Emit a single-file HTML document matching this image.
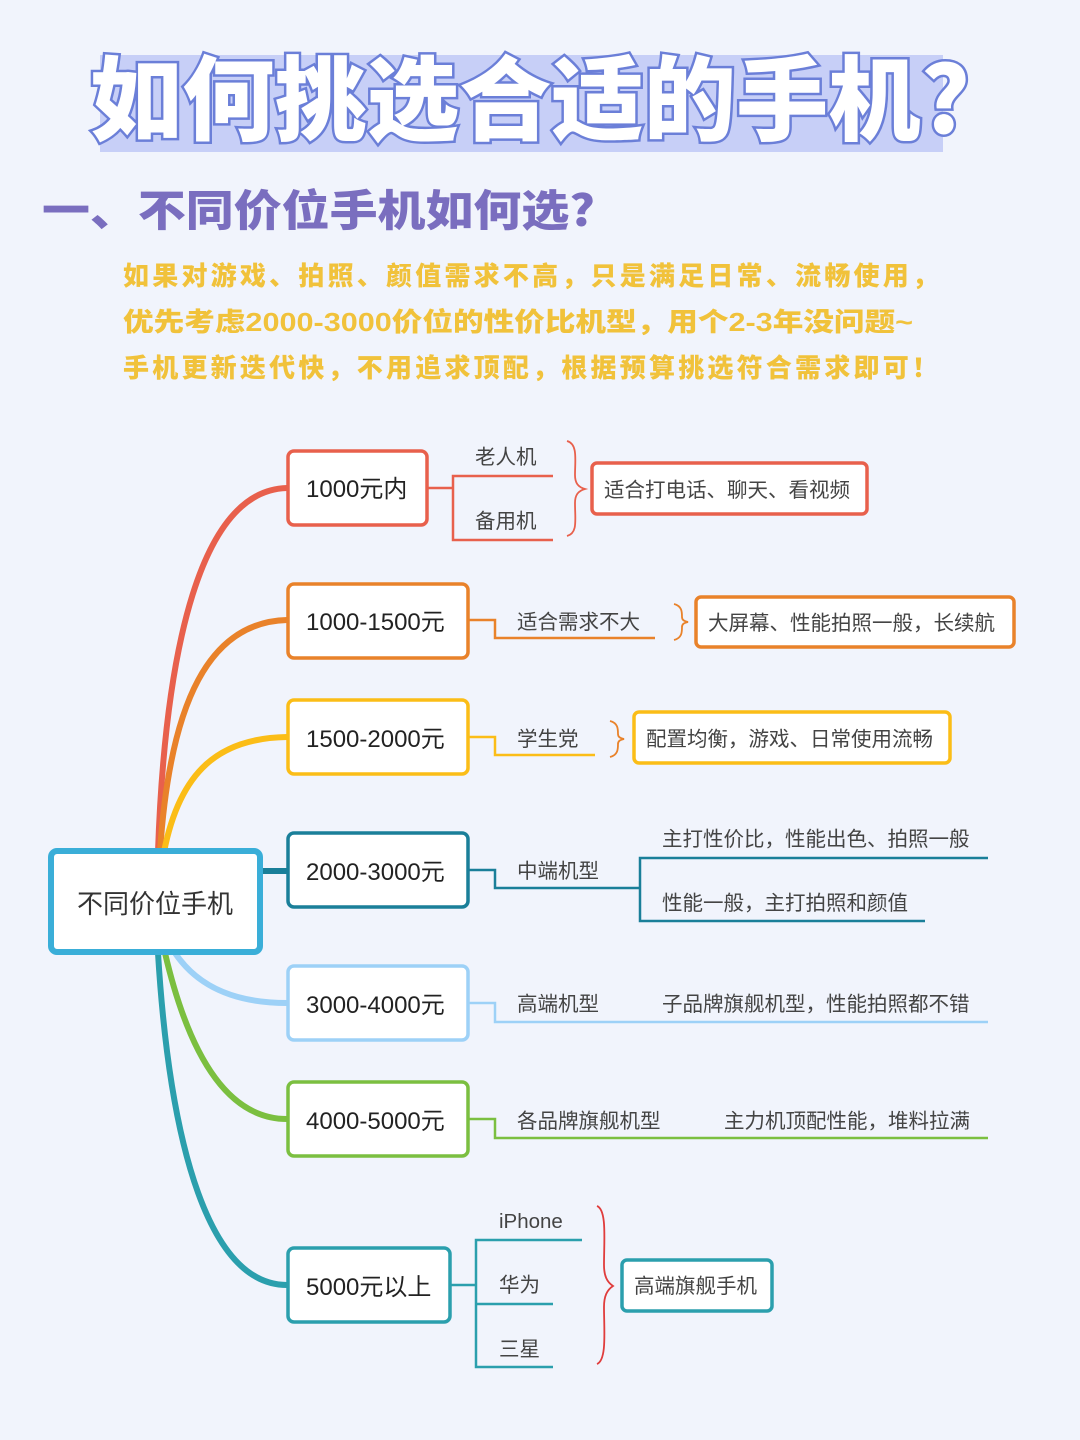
<!DOCTYPE html>
<html><head><meta charset="utf-8"><style>
html,body{margin:0;padding:0;background:#f1f4fc;}
svg{display:block;}
text{font-family:"Liberation Sans","Noto Sans CJK SC",sans-serif;}
</style></head><body>
<svg width="1080" height="1440" viewBox="0 0 1080 1440" xmlns="http://www.w3.org/2000/svg">
<rect width="1080" height="1440" fill="#f1f4fc"/>
<rect x="100" y="55" width="843" height="97" fill="#c7cff7"/>
<text x="90" y="133" textLength="880" lengthAdjust="spacingAndGlyphs" font-size="92" font-weight="900" fill="#fff" stroke="#6b7fd8" stroke-width="5" paint-order="stroke" style="font-family:'Noto Sans CJK SC',sans-serif">如何挑选合适的手机?</text>
<text x="42" y="226" textLength="553" lengthAdjust="spacingAndGlyphs" font-size="43" font-weight="900" fill="#7a6ebf" style="font-family:'Noto Sans CJK SC',sans-serif">一、不同价位手机如何选?</text>
<g font-size="26" font-weight="900" fill="#f1c23b" style="font-family:'Noto Sans CJK SC',sans-serif">
<text x="123" y="285" textLength="815" lengthAdjust="spacing">如果对游戏、拍照、颜值需求不高，只是满足日常、流畅使用，</text>
<text x="123" y="331" textLength="790" lengthAdjust="spacingAndGlyphs">优先考虑2000-3000价位的性价比机型，用个2-3年没问题~</text>
<text x="123" y="377" textLength="815" lengthAdjust="spacing">手机更新迭代快，不用追求顶配，根据预算挑选符合需求即可！</text>
</g>
<g fill="none" stroke-width="6">
<path d="M158 852 C165 650 200 490 287 488" stroke="#e8604c"/>
<path d="M160 852 C170 700 210 622 287 620" stroke="#e9822a"/>
<path d="M164 852 C180 770 220 738 287 737" stroke="#fbbd17"/>
<path d="M261 871 L287 871" stroke="#1a7f99"/>
<path d="M175 953 C200 990 240 1003 287 1003" stroke="#9dd1f7"/>
<path d="M165 953 C190 1060 230 1119 287 1119" stroke="#7bbf40"/>
<path d="M158 953 C170 1150 210 1285 287 1285" stroke="#2b9fad"/>
</g>
<rect x="51" y="851" width="209" height="101" rx="6" fill="#fff" stroke="#3aaed8" stroke-width="6"/>
<text x="155" y="913" text-anchor="middle" font-size="26" fill="#333">不同价位手机</text>
<g fill="#fff" stroke-width="3.5">
<rect x="288" y="451" width="139" height="74" rx="6" stroke="#e8604c"/>
<rect x="288" y="584" width="180" height="74" rx="6" stroke="#e9822a"/>
<rect x="288" y="700" width="180" height="74" rx="6" stroke="#fbbd17"/>
<rect x="288" y="833" width="180" height="74" rx="6" stroke="#1a7f99"/>
<rect x="288" y="966" width="180" height="74" rx="6" stroke="#9dd1f7"/>
<rect x="288" y="1082" width="180" height="74" rx="6" stroke="#7bbf40"/>
<rect x="288" y="1248" width="162" height="74" rx="6" stroke="#2b9fad"/>
<rect x="592" y="463" width="275" height="51" rx="5" stroke="#e8604c"/>
<rect x="696" y="597" width="318" height="50" rx="5" stroke="#e9822a"/>
<rect x="634" y="712" width="316" height="51" rx="5" stroke="#fbbd17"/>
<rect x="622" y="1260" width="150" height="51" rx="5" stroke="#2b9fad"/>
</g>
<g font-size="24" fill="#222">
<text x="306" y="497">1000元内</text>
<text x="306" y="630">1000-1500元</text>
<text x="306" y="747">1500-2000元</text>
<text x="306" y="880">2000-3000元</text>
<text x="306" y="1013">3000-4000元</text>
<text x="306" y="1129">4000-5000元</text>
<text x="306" y="1295">5000元以上</text>
</g>
<g fill="none" stroke-width="2.5">
<path d="M427 488 H453 M553 476 H453 V540 H553" stroke="#e8604c"/>
<path d="M468 620 H495 V638 H655" stroke="#e9822a"/>
<path d="M468 737 H495 V755 H595" stroke="#fbbd17"/>
<path d="M468 870 H495 V888 H640 M988 858 H640 V921 H925" stroke="#1a7f99"/>
<path d="M468 1003 H495 V1022 H988" stroke="#9dd1f7"/>
<path d="M468 1119 H495 V1138 H988" stroke="#7bbf40"/>
<path d="M450 1285 H476 M582 1240 H476 V1367 H553 M476 1304 H553" stroke="#2b9fad"/>
</g>
<g fill="none" stroke="#e8604c" stroke-width="1.8">
<path d="M567 441 C578 444 575 460 575 475 C575 483 578 487 585 489 C578 491 575 495 575 503 C575 520 578 533 567 536"/>
<path d="M674 604 C682 606 682 612 682 617 C682 620 684 621 688 622 C684 623 682 624 682 627 C682 632 682 638 674 640" stroke="#e9822a"/>
<path d="M610 721 C618 723 618 729 618 734 C618 737 620 738 624 739 C620 740 618 741 618 744 C618 749 618 755 610 757" stroke="#e9822a"/>
<path d="M597 1206 C607 1210 604 1240 604 1265 C604 1276 607 1282 613 1286 C607 1290 604 1296 604 1307 C604 1330 607 1360 597 1364" stroke="#e03c3c"/>
</g>
<g font-size="20.5" fill="#444">
<text x="475" y="464">老人机</text>
<text x="475" y="528">备用机</text>
<text x="604" y="497">适合打电话、聊天、看视频</text>
<text x="517" y="629">适合需求不大</text>
<text x="708" y="630">大屏幕、性能拍照一般，长续航</text>
<text x="517" y="746">学生党</text>
<text x="646" y="746">配置均衡，游戏、日常使用流畅</text>
<text x="517" y="878">中端机型</text>
<text x="662" y="846">主打性价比，性能出色、拍照一般</text>
<text x="662" y="910">性能一般，主打拍照和颜值</text>
<text x="517" y="1011">高端机型</text>
<text x="662" y="1011">子品牌旗舰机型，性能拍照都不错</text>
<text x="517" y="1128">各品牌旗舰机型</text>
<text x="724" y="1128">主力机顶配性能，堆料拉满</text>
<text x="499" y="1228">iPhone</text>
<text x="499" y="1292">华为</text>
<text x="499" y="1356">三星</text>
<text x="634" y="1293">高端旗舰手机</text>
</g>
</svg>
</body></html>
